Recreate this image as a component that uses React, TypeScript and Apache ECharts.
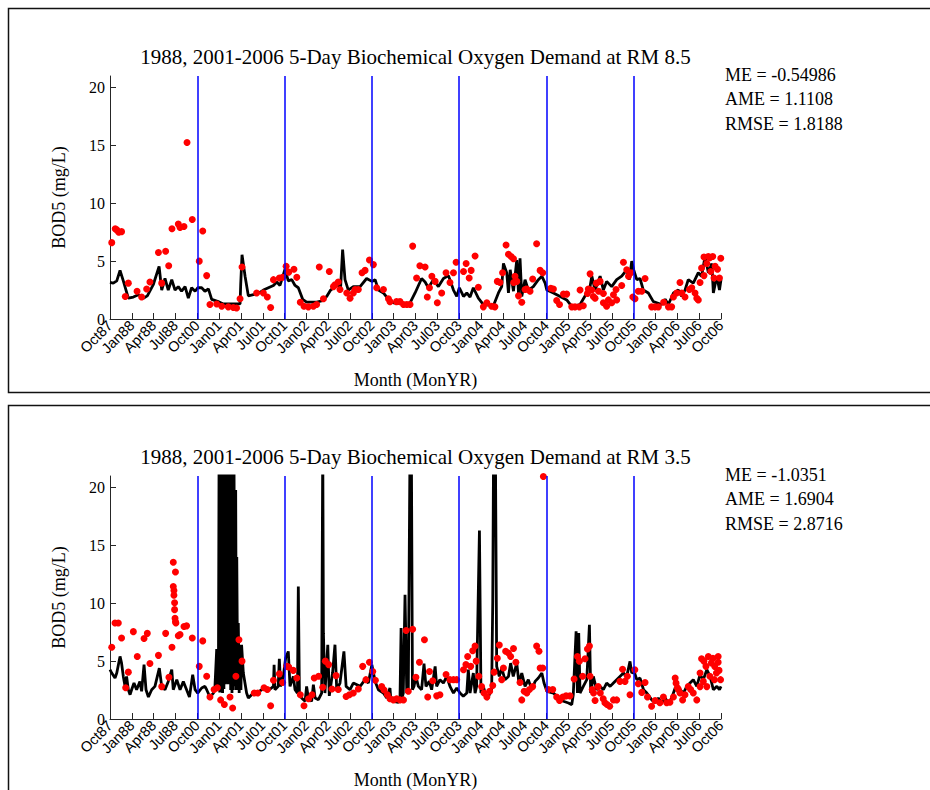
import React, { useEffect, useRef } from 'react';
import * as echarts from 'echarts';

// ---------- axis / label data ----------
const xTickLabels = ['Oct87', 'Jan88', 'Apr88', 'Jul88', 'Oct00', 'Jan01', 'Apr01', 'Jul01', 'Oct01', 'Jan02', 'Apr02', 'Jul02', 'Oct02', 'Jan03', 'Apr03', 'Jul03', 'Oct03', 'Jan04', 'Apr04', 'Jul04', 'Oct04', 'Jan05', 'Apr05', 'Jul05', 'Oct05', 'Jan06', 'Apr06', 'Jul06', 'Oct06'];
const yTicks = [0, 5, 10, 15, 20];
const yMax = 21;
const segmentBreaks = [4, 8, 12, 16, 20, 24];
const titles = [
  '1988, 2001-2006 5-Day Biochemical Oxygen Demand at RM 8.5',
  '1988, 2001-2006 5-Day Biochemical Oxygen Demand at RM 3.5',
];
const statsRM85 = ['ME = -0.54986', 'AME = 1.1108', 'RMSE = 1.8188'];
const statsRM35 = ['ME = -1.0351', 'AME = 1.6904', 'RMSE = 2.8716'];

// x = position in quarter-ticks (0 = Oct87 ... 28 = Oct06), y = BOD5 mg/L
const rm85Model = [
  [0.00, 3.17], [0.15, 3.10], [0.31, 3.30], [0.46, 4.20], [0.61, 3.30], [0.84, 1.80], [1.07, 1.90], [1.30, 2.10], [1.53, 1.80], [1.71, 2.00],
  [1.99, 3.00], [2.25, 4.55], [2.37, 2.50], [2.52, 3.50], [2.67, 2.50], [2.83, 3.40], [2.98, 2.50], [3.13, 2.80], [3.28, 2.40], [3.44, 2.80],
  [3.59, 1.80], [3.74, 2.70], [3.90, 2.40], [4.02, 2.70], [4.20, 2.70], [4.35, 2.40], [4.51, 2.60], [4.66, 1.70], [4.96, 1.50], [5.19, 1.30],
  [5.65, 1.30], [5.96, 1.30], [5.99, 3.00], [6.05, 5.55], [6.19, 3.70], [6.34, 2.00], [6.57, 2.10], [6.87, 2.30], [7.03, 2.50], [7.26, 2.70],
  [7.49, 2.90], [7.64, 3.20], [7.79, 2.90], [7.94, 3.80], [8.02, 4.30], [8.17, 3.30], [8.33, 3.40], [8.48, 2.90], [8.63, 2.70], [8.83, 1.70],
  [9.01, 1.45], [9.47, 1.45], [9.78, 1.60], [9.93, 1.95], [10.11, 2.50], [10.39, 2.90], [10.57, 2.80], [10.66, 6.00], [10.77, 3.40], [10.92, 2.50],
  [11.15, 2.80], [11.46, 2.80], [11.76, 3.50], [12.00, 3.25], [12.15, 3.40], [12.30, 2.50], [12.53, 2.25], [12.76, 1.70], [12.99, 1.40], [13.45, 1.30],
  [13.75, 1.40], [13.98, 2.25], [14.28, 3.50], [14.44, 3.20], [14.59, 2.70], [14.82, 3.40], [15.05, 2.80], [15.28, 3.50], [15.51, 3.75], [15.74, 2.50],
  [15.89, 1.95], [16.01, 2.70], [16.20, 1.95], [16.35, 2.25], [16.50, 1.90], [16.65, 2.70], [16.88, 1.80], [17.11, 1.25], [17.57, 1.15], [17.80, 2.25],
  [17.95, 2.80], [18.03, 4.80], [18.18, 4.00], [18.26, 2.25], [18.34, 4.25], [18.49, 2.40], [18.64, 5.10], [18.72, 2.25], [18.79, 5.25], [18.87, 1.95],
  [19.02, 3.40], [19.17, 2.50], [19.40, 2.80], [19.63, 3.40], [19.79, 3.70], [19.94, 3.10], [20.02, 2.50], [20.32, 2.25], [20.63, 1.95], [20.93, 1.65],
  [21.16, 1.10], [21.54, 1.25], [21.85, 2.25], [22.00, 2.80], [22.08, 3.70], [22.23, 2.50], [22.46, 3.70], [22.61, 2.50], [22.76, 3.25], [22.99, 2.80],
  [23.22, 3.40], [23.45, 3.70], [23.68, 4.25], [23.80, 3.40], [23.91, 5.00], [24.00, 4.25], [24.14, 3.40], [24.29, 3.50], [24.44, 2.50], [24.67, 2.25],
  [24.90, 1.50], [25.28, 1.25], [25.44, 1.70], [25.59, 1.25], [25.82, 2.25], [26.05, 2.50], [26.20, 1.95], [26.35, 2.50], [26.50, 3.40], [26.73, 3.10],
  [26.96, 4.00], [27.11, 3.70], [27.27, 5.40], [27.42, 4.00], [27.58, 4.80], [27.65, 2.25], [27.81, 3.70], [27.93, 2.50], [28.00, 3.40],
];

const rm85Observed = [
  [0.08, 6.6], [0.24, 7.8], [0.31, 7.7], [0.40, 7.5], [0.53, 7.55], [0.70, 1.95], [0.84, 3.1], [1.24, 2.4], [1.45, 1.9], [1.68, 2.6],
  [1.83, 3.2], [2.22, 5.75], [2.37, 3.1], [2.55, 5.85], [2.69, 4.6], [2.84, 7.8], [3.13, 8.2], [3.21, 7.9], [3.39, 8.0], [3.53, 15.25],
  [3.77, 8.6], [4.09, 5.0], [4.25, 7.6], [4.43, 3.75], [4.58, 1.25], [4.89, 1.3], [5.12, 1.1], [5.42, 1.05], [5.65, 1.0], [5.80, 0.95],
  [5.96, 1.75], [6.05, 4.5], [6.72, 2.25], [7.03, 2.25], [7.21, 1.9], [7.36, 1.0], [7.49, 3.4], [7.76, 3.55], [7.91, 3.6], [8.07, 4.55],
  [8.19, 4.05], [8.43, 4.3], [8.56, 3.6], [8.72, 1.45], [8.89, 1.1], [9.09, 1.05], [9.32, 1.1], [9.47, 1.25], [9.59, 4.5], [9.78, 1.75],
  [10.05, 4.1], [10.24, 2.8], [10.31, 2.95], [10.46, 3.2], [10.54, 2.55], [10.85, 2.25], [11.00, 1.8], [11.15, 2.25], [11.23, 2.55], [11.38, 2.55],
  [11.55, 4.0], [11.69, 4.2], [11.89, 5.1], [12.07, 4.7], [12.22, 2.7], [12.53, 2.55], [12.76, 1.75], [12.83, 1.5], [13.13, 1.5], [13.29, 1.5],
  [13.45, 1.25], [13.60, 1.25], [13.75, 1.25], [13.87, 6.3], [14.05, 3.55], [14.20, 4.6], [14.44, 4.5], [14.54, 1.9], [14.64, 2.7], [14.75, 3.7],
  [14.90, 3.25], [15.00, 1.4], [15.20, 2.25], [15.40, 4.0], [15.58, 3.15], [15.74, 4.0], [15.86, 4.9], [16.20, 4.1], [16.32, 4.8], [16.46, 3.55],
  [16.55, 4.2], [16.73, 5.45], [16.88, 2.75], [17.11, 1.05], [17.27, 1.4], [17.49, 1.1], [17.64, 1.05], [17.75, 3.25], [17.87, 3.15], [17.99, 4.0],
  [18.15, 6.4], [18.26, 5.6], [18.38, 5.4], [18.49, 5.2], [18.50, 3.15], [18.56, 3.7], [18.64, 3.25], [18.72, 2.0], [18.87, 1.45], [19.02, 2.55],
  [19.10, 2.6], [19.25, 2.4], [19.37, 3.45], [19.55, 6.5], [19.71, 4.2], [19.83, 4.0], [20.20, 2.65], [20.32, 2.6], [20.47, 1.6], [20.60, 1.25],
  [20.78, 2.15], [20.93, 2.15], [21.16, 1.05], [21.31, 1.05], [21.51, 1.05], [21.54, 2.5], [21.69, 1.15], [21.88, 2.2], [21.92, 2.6], [22.00, 3.9],
  [22.08, 2.5], [22.15, 1.95], [22.23, 1.8], [22.29, 3.1], [22.39, 2.4], [22.46, 3.25], [22.61, 2.2], [22.61, 1.4], [22.76, 1.1], [22.84, 1.65],
  [22.99, 1.4], [23.07, 2.1], [23.19, 2.55], [23.22, 1.65], [23.45, 2.9], [23.53, 4.9], [23.68, 4.25], [23.76, 3.7], [23.87, 4.0], [23.96, 1.9],
  [24.06, 1.75], [24.21, 2.4], [24.37, 2.4], [24.52, 3.5], [24.82, 1.05], [24.98, 1.05], [25.13, 1.05], [25.37, 1.45], [25.59, 1.05], [25.74, 1.05],
  [25.82, 1.9], [25.97, 2.25], [26.12, 3.15], [26.20, 2.25], [26.35, 1.9], [26.55, 2.55], [26.66, 2.7], [26.81, 2.25], [26.89, 1.8], [26.96, 1.65],
  [27.04, 3.15], [27.11, 4.4], [27.22, 3.75], [27.22, 5.35], [27.35, 4.8], [27.42, 5.4], [27.49, 5.3], [27.53, 4.1], [27.62, 5.4], [27.68, 3.55],
  [27.73, 4.55], [27.84, 4.3], [27.93, 3.55], [27.99, 5.25],
];

const rm35Model = [
  [0.00, 4.26], [0.08, 3.97], [0.23, 3.54], [0.31, 3.97], [0.46, 5.41], [0.53, 4.83], [0.61, 3.68], [0.69, 2.82], [0.76, 3.68], [0.84, 2.53],
  [0.92, 2.10], [0.99, 2.53], [1.10, 3.11], [1.22, 2.53], [1.37, 3.25], [1.45, 2.39], [1.56, 4.69], [1.65, 2.53], [1.76, 1.90], [1.91, 2.53],
  [2.06, 2.82], [2.26, 4.40], [2.37, 2.82], [2.52, 2.53], [2.67, 3.25], [2.83, 4.26], [2.90, 2.53], [3.06, 3.40], [3.21, 2.53], [3.36, 3.25],
  [3.51, 2.53], [3.64, 1.90], [3.79, 3.83], [3.90, 2.53], [4.02, 2.24], [4.20, 2.68], [4.35, 2.82], [4.43, 2.53], [4.58, 1.90], [4.74, 2.24],
  [4.81, 2.82], [4.89, 6.04], [4.92, 2.53], [4.97, 4.55], [5.00, 24.0], [5.03, 2.30], [5.07, 24.0], [5.10, 2.50], [5.13, 24.0], [5.16, 2.24],
  [5.19, 24.0], [5.22, 2.60], [5.25, 24.0], [5.29, 3.00], [5.32, 24.0], [5.36, 3.68], [5.39, 24.0], [5.42, 3.00], [5.44, 14.19], [5.47, 3.50],
  [5.50, 24.0], [5.53, 2.50], [5.56, 24.0], [5.59, 2.24], [5.62, 24.0], [5.65, 2.50], [5.68, 24.0], [5.72, 2.82], [5.76, 19.80], [5.79, 2.50],
  [5.81, 14.0], [5.85, 2.53], [5.88, 8.29], [5.92, 2.24], [5.96, 6.42], [6.00, 2.50], [6.03, 6.42], [6.11, 3.97], [6.26, 2.24], [6.34, 1.81],
  [6.49, 2.10], [6.72, 2.24], [6.95, 2.53], [7.10, 2.53], [7.30, 2.53], [7.49, 2.82], [7.52, 4.69],
  [7.56, 2.53], [7.71, 2.82], [7.76, 5.21], [7.82, 2.82], [7.94, 3.68], [8.05, 5.27], [8.17, 5.84], [8.25, 2.82], [8.40, 3.68], [8.48, 2.53],
  [8.59, 2.24], [8.63, 11.45], [8.68, 2.24], [8.78, 1.81], [8.94, 1.53], [9.01, 2.82], [9.09, 1.81], [9.24, 1.53], [9.32, 2.96], [9.40, 1.81],
  [9.55, 1.67], [9.70, 2.24], [9.75, 24.0], [9.78, 7.42], [9.85, 2.24], [9.98, 6.42], [10.05, 2.00], [10.20, 3.97], [10.31, 6.42], [10.39, 2.53],
  [10.54, 3.11], [10.72, 5.84], [10.82, 2.82], [11.00, 2.53], [11.15, 3.11], [11.46, 2.82], [11.69, 3.40], [11.84, 3.11], [12.00, 4.69], [12.15, 3.25],
  [12.30, 2.53], [12.53, 2.24], [12.68, 1.81], [12.83, 2.68], [12.86, 1.96], [12.99, 1.53], [13.22, 1.44], [13.29, 1.81], [13.34, 7.86], [13.38, 1.81],
  [13.44, 2.24], [13.52, 10.73], [13.60, 2.24], [13.67, 2.53], [13.75, 24.0], [13.81, 24.0], [13.86, 2.53], [13.93, 2.82], [14.02, 3.68], [14.13, 2.82],
  [14.28, 2.53], [14.39, 4.78], [14.48, 2.82], [14.63, 3.25], [14.74, 2.53], [14.90, 4.55], [14.97, 2.82], [15.12, 3.40], [15.28, 3.11], [15.43, 3.68],
  [15.58, 2.82], [15.74, 2.24], [15.89, 2.68], [16.04, 2.24], [16.19, 1.96], [16.35, 2.24], [16.42, 4.26], [16.50, 2.24], [16.65, 3.97], [16.73, 2.24],
  [16.80, 2.82], [16.93, 16.29], [17.00, 2.24], [17.11, 2.82], [17.27, 1.67], [17.42, 2.24], [17.49, 2.53], [17.54, 10.16], [17.58, 24.0], [17.66, 24.0],
  [17.72, 4.55], [17.84, 3.68], [17.95, 4.40], [18.10, 3.40], [18.26, 3.68], [18.36, 4.83], [18.48, 3.68], [18.64, 4.83], [18.74, 3.11], [18.87, 3.97],
  [19.02, 2.82], [19.17, 3.40], [19.33, 2.53], [19.48, 3.25], [19.63, 3.54], [19.79, 3.97], [19.89, 3.11], [20.02, 2.39], [20.32, 2.24], [20.55, 1.81],
  [20.78, 1.53], [21.01, 1.38], [21.16, 1.24], [21.23, 2.10], [21.36, 7.57], [21.42, 2.24], [21.48, 7.42], [21.54, 2.24], [21.69, 2.82], [21.85, 3.40],
  [21.97, 8.14], [22.03, 2.24], [22.15, 3.68], [22.30, 2.53], [22.46, 2.82], [22.61, 2.53], [22.76, 3.11], [22.92, 2.82], [23.07, 3.11], [23.22, 3.40],
  [23.37, 3.68], [23.53, 3.97], [23.68, 3.68], [23.83, 4.98], [23.91, 3.97], [24.02, 4.12], [24.14, 3.40], [24.29, 3.54], [24.45, 2.53], [24.60, 2.24],
  [24.82, 1.67], [24.98, 1.38], [25.13, 1.81], [25.28, 1.38], [25.44, 1.81], [25.59, 1.38], [25.74, 1.81], [25.90, 2.68], [26.00, 2.39], [26.12, 2.53],
  [26.28, 2.24], [26.43, 2.82], [26.58, 3.11], [26.73, 3.40], [26.89, 2.82], [27.04, 3.83], [27.19, 3.40], [27.35, 4.26], [27.50, 3.68], [27.65, 2.53],
  [27.81, 2.82], [27.93, 2.53], [28.00, 2.82],
];

const rm35Observed = [
  [0.08, 6.2], [0.23, 8.3], [0.38, 8.3], [0.53, 7.0], [0.72, 2.7], [0.84, 4.05], [1.07, 7.55], [1.25, 5.4], [1.56, 6.95], [1.71, 7.4],
  [1.83, 4.8], [2.22, 5.5], [2.37, 2.8], [2.55, 7.4], [2.70, 3.6], [2.84, 6.2], [2.90, 13.55], [2.90, 11.45], [2.93, 11.1], [2.93, 10.7],
  [2.96, 10.05], [2.96, 9.45], [2.98, 8.7], [3.00, 12.7], [3.00, 8.4], [3.02, 8.3], [3.13, 7.2], [3.21, 7.3], [3.39, 8.0], [3.51, 8.05],
  [3.77, 7.0], [4.09, 4.55], [4.25, 6.75], [4.43, 3.7], [4.58, 1.9], [4.77, 2.55], [4.92, 2.7], [5.07, 1.65], [5.24, 1.25], [5.50, 1.9],
  [5.62, 0.95], [5.77, 3.7], [5.91, 6.85], [6.05, 5.0], [6.61, 2.25], [6.77, 2.25], [7.06, 2.7], [7.21, 2.55], [7.36, 1.15], [7.49, 3.35],
  [7.76, 3.9], [7.91, 3.15], [8.10, 4.55], [8.19, 4.5], [8.40, 4.2], [8.56, 3.55], [8.72, 2.1], [8.89, 1.15], [9.10, 1.75], [9.26, 2.1],
  [9.36, 3.55], [9.56, 3.7], [9.75, 2.75], [9.87, 5.0], [10.02, 4.7], [10.17, 2.6], [10.36, 3.75], [10.46, 2.55], [10.82, 1.95], [10.97, 2.1],
  [11.15, 2.25], [11.38, 2.6], [11.58, 4.55], [11.73, 3.4], [11.89, 4.9], [12.04, 4.1], [12.16, 3.35], [12.45, 2.8], [12.56, 2.5], [12.71, 2.1],
  [12.83, 1.75], [12.99, 1.65], [13.14, 1.75], [13.29, 1.65], [13.45, 1.65], [13.57, 7.65], [13.67, 2.4], [13.87, 7.75], [14.02, 3.6], [14.18, 4.9],
  [14.41, 6.85], [14.56, 1.9], [14.64, 4.1], [14.79, 3.3], [14.97, 2.0], [15.12, 2.1], [15.40, 3.85], [15.58, 3.4], [15.74, 3.4], [15.89, 3.4],
  [16.20, 4.25], [16.31, 4.7], [16.39, 5.4], [16.53, 4.55], [16.62, 5.9], [16.73, 6.3], [16.78, 5.0], [16.90, 3.7], [17.03, 2.8], [17.14, 2.25],
  [17.27, 1.9], [17.40, 2.4], [17.54, 2.9], [17.60, 4.05], [17.75, 5.25], [17.84, 6.4], [17.95, 3.4], [18.03, 4.4], [18.13, 5.85], [18.26, 5.7],
  [18.36, 5.4], [18.49, 6.1], [18.60, 4.9], [18.79, 3.15], [18.87, 1.65], [18.98, 2.4], [19.10, 2.25], [19.22, 2.55], [19.37, 2.8], [19.55, 6.3],
  [19.66, 5.85], [19.71, 4.4], [19.83, 4.4], [19.86, 20.95], [20.09, 2.55], [20.29, 2.55], [20.47, 1.9], [20.60, 1.6], [20.75, 1.9], [20.90, 2.0],
  [21.08, 2.0], [21.27, 3.45], [21.42, 5.4], [21.51, 5.0], [21.66, 3.7], [21.77, 5.2], [21.88, 6.05], [21.97, 6.3], [22.00, 3.7], [22.10, 2.55],
  [22.16, 2.25], [22.23, 1.6], [22.37, 2.8], [22.47, 2.25], [22.60, 1.75], [22.68, 1.4], [22.78, 1.25], [22.90, 1.1], [23.07, 1.65], [23.22, 1.65],
  [23.37, 3.25], [23.49, 4.3], [23.60, 3.25], [23.71, 3.7], [23.83, 2.1], [24.05, 4.25], [24.21, 3.05], [24.37, 2.3], [24.52, 3.15], [24.63, 1.9],
  [24.82, 1.1], [24.98, 1.6], [25.20, 1.4], [25.36, 1.9], [25.51, 1.4], [25.66, 1.45], [25.82, 1.9], [25.90, 3.55], [25.94, 3.1], [26.00, 2.7],
  [26.05, 2.55], [26.12, 2.25], [26.24, 1.65], [26.35, 2.1], [26.50, 2.8], [26.61, 2.55], [26.73, 2.25], [26.89, 1.65], [27.04, 3.97], [27.04, 2.8],
  [27.11, 5.2], [27.19, 3.25], [27.22, 5.0], [27.31, 4.55], [27.35, 2.8], [27.42, 5.4], [27.49, 3.7], [27.56, 4.85], [27.63, 5.25], [27.70, 3.4],
  [27.71, 4.55], [27.79, 3.97], [27.87, 4.9], [27.87, 5.4], [27.91, 4.2], [27.98, 3.4],
];

const SERIF = '"Liberation Serif", "Times New Roman", Times, serif';
const SANS = '"Liberation Sans", Arial, Helvetica, sans-serif';
const AXIS_COLOR = '#262626';

const panels = [
  { top: 76, title: titles[0], stats: statsRM85, model: rm85Model, observed: rm85Observed, boxTop: 8.5, boxHeight: 384 },
  { top: 476, title: titles[1], stats: statsRM35, model: rm35Model, observed: rm35Observed, boxTop: 405.5, boxHeight: 420 },
];
const GRID_LEFT = 110;
const GRID_WIDTH = 611;
const GRID_HEIGHT = 243;

function buildOption() {
  const grid: any[] = [];
  const xAxis: any[] = [];
  const yAxis: any[] = [];
  const series: any[] = [];
  const title: any[] = [];
  const graphic: any[] = [];

  panels.forEach((p, i) => {
    graphic.push({
      type: 'rect',
      silent: true,
      z: -10,
      shape: { x: 8.5, y: p.boxTop, width: 940, height: p.boxHeight },
      style: { fill: 'none', stroke: '#111', lineWidth: 1.5 },
    });
    p.stats.forEach((s, k) => {
      graphic.push({
        type: 'text',
        silent: true,
        x: 725,
        y: p.top - 1 + k * 24.3,
        style: {
          text: s,
          fontFamily: SERIF,
          fontSize: 18,
          fill: '#000',
          align: 'left',
          verticalAlign: 'middle',
        },
      });
    });
    grid.push({ left: GRID_LEFT, top: p.top, width: GRID_WIDTH, height: GRID_HEIGHT, containLabel: false });
    title.push({
      text: p.title,
      left: GRID_LEFT + GRID_WIDTH / 2,
      top: p.top - 30,
      textAlign: 'center',
      padding: 0,
      textStyle: { fontFamily: SERIF, fontSize: 21, fontWeight: 'normal', color: '#000' },
    });
    xAxis.push({
      gridIndex: i,
      type: 'value',
      min: 0,
      max: xTickLabels.length - 1,
      interval: 1,
      axisLine: { show: true, onZero: false, lineStyle: { color: AXIS_COLOR, width: 1 } },
      axisTick: { show: true, inside: true, length: 6, lineStyle: { color: AXIS_COLOR } },
      axisLabel: {
        rotate: 45,
        margin: 4,
        fontFamily: SANS,
        fontSize: 14.5,
        color: '#000',
        formatter: (v: number) => xTickLabels[Math.round(v)] ?? '',
      },
      splitLine: { show: false },
      name: 'Month (MonYR)',
      nameLocation: 'middle',
      nameGap: 52,
      nameTextStyle: { fontFamily: SERIF, fontSize: 18, color: '#000' },
    });
    yAxis.push({
      gridIndex: i,
      type: 'value',
      min: 0,
      max: yMax,
      interval: 5,
      axisLine: { show: true, lineStyle: { color: AXIS_COLOR, width: 1 } },
      axisTick: { show: true, inside: true, length: 6, customValues: yTicks, lineStyle: { color: AXIS_COLOR } },
      axisLabel: { customValues: yTicks, margin: 5, fontFamily: SERIF, fontSize: 16, color: '#000' },
      splitLine: { show: false },
      name: 'BOD5 (mg/L)',
      nameLocation: 'middle',
      nameRotate: 90,
      nameGap: 42,
      nameTextStyle: { fontFamily: SERIF, fontSize: 18, color: '#000' },
    });
    series.push({
      name: `model-${i}`,
      type: 'line',
      xAxisIndex: i,
      yAxisIndex: i,
      data: p.model,
      showSymbol: false,
      symbol: 'none',
      clip: true,
      lineStyle: { color: '#000', width: 2.8 },
      z: 2,
    });
    series.push({
      name: `observed-${i}`,
      type: 'scatter',
      xAxisIndex: i,
      yAxisIndex: i,
      data: p.observed,
      symbol: 'circle',
      symbolSize: 7,
      itemStyle: { color: '#ff0000', opacity: 1 },
      z: 3,
    });
    series.push({
      name: `breaks-${i}`,
      type: 'line',
      xAxisIndex: i,
      yAxisIndex: i,
      data: [],
      z: 4,
      markLine: {
        silent: true,
        symbol: ['none', 'none'],
        label: { show: false },
        lineStyle: { color: '#0000ff', width: 1.5, type: 'solid' },
        emphasis: { disabled: true },
        data: segmentBreaks.map((x) => ({ xAxis: x })),
      },
    });
  });

  return {
    animation: false,
    backgroundColor: '#fff',
    title,
    grid,
    xAxis,
    yAxis,
    series,
    graphic,
  };
}

export default function App() {
  const ref = useRef<HTMLDivElement>(null);
  useEffect(() => {
    if (!ref.current) return;
    const chart = echarts.init(ref.current, undefined, { renderer: 'svg' });
    chart.setOption(buildOption() as any);
    return () => chart.dispose();
  }, []);
  return (
    <div
      ref={ref}
      style={{ position: 'absolute', left: 0, top: 0, width: 930, height: 790, background: '#fff' }}
    />
  );
}
